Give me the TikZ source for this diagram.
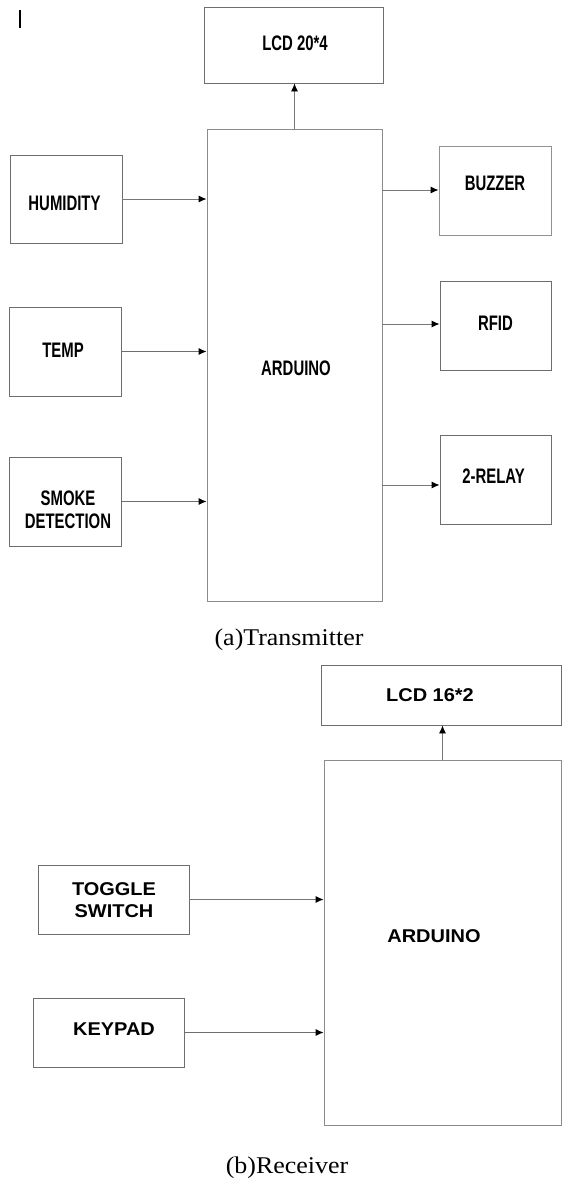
\documentclass[tikz,border=0pt]{standalone}
\usepackage{graphicx}
\usepackage{fontspec}
\setmainfont{Liberation Serif}
\setsansfont{Liberation Sans}
\usetikzlibrary{arrows.meta}
\definecolor{boxgray}{HTML}{6E6E6E}
\definecolor{linegray}{HTML}{777777}
\newcommand\nrwtxt[1]{\scalebox{0.71}[1]{\begin{tabular}{@{}c@{}}#1\end{tabular}}}
\newcommand\wdtxt[1]{\scalebox{1.08}[1]{\begin{tabular}{@{}c@{}}#1\end{tabular}}}
\tikzset{
  blk/.style={draw=boxgray, line width=0.9pt, rectangle, inner sep=0pt},
  tnar/.style={inner sep=0pt, yshift=-3pt, font=\sffamily\bfseries\fontsize{21}{23}\selectfont},
  twid/.style={inner sep=0pt, yshift=-3pt, font=\sffamily\bfseries\fontsize{18.5}{22}\selectfont},
  conn/.style={draw=linegray, line width=0.9pt, -{Latex[length=8pt,width=7pt,color=black]}},
  captxt/.style={font=\fontsize{24}{26}\selectfont, inner sep=0pt}
}
\begin{document}
\begin{tikzpicture}[x=1pt,y=-1pt]
\useasboundingbox (0,0) rectangle (564,1183);
\fill[white] (0,0) rectangle (564,1183);
% stray mark
\draw[line width=1.2pt, black] (20,10) -- (20,28);
% ---------- transmitter ----------
\node[blk, minimum width=179pt, minimum height=76pt,
  label={[tnar, shift={(1.5,-2)}]center:\nrwtxt{LCD 20*4}}] (lcda) at (293.5,45) {};
\node[blk, minimum width=175pt, minimum height=472pt, draw=linegray!85,
  label={[tnar, shift={(1.5,3)}]center:\nrwtxt{ARDUINO}}] (arda) at (294.5,365) {};
\node[blk, minimum width=112pt, minimum height=88pt,
  label={[tnar, shift={(-1.5,4)}]center:\nrwtxt{HUMIDITY}}] (hum) at (66,199) {};
\node[blk, minimum width=112pt, minimum height=89pt,
  label={[tnar, shift={(-2,-1.5)}]center:\nrwtxt{TEMP}}] (temp) at (65,351.5) {};
\node[blk, minimum width=112pt, minimum height=89pt,
  label={[tnar, shift={(3,7.5)}]center:\nrwtxt{SMOKE\\DETECTION}}] (smoke) at (65,501.5) {};
\node[blk, minimum width=112pt, minimum height=89pt, draw=linegray!80,
  label={[tnar, shift={(0,-7.5)}]center:\nrwtxt{BUZZER}}] (buzz) at (495,190.5) {};
\node[blk, minimum width=111pt, minimum height=89pt,
  label={[tnar, shift={(0,-2.5)}]center:\nrwtxt{RFID}}] (rfid) at (495.5,325.5) {};
\node[blk, minimum width=111pt, minimum height=89pt,
  label={[tnar, shift={(-2,-3.5)}]center:\nrwtxt{2-RELAY}}] (relay) at (495.5,479.5) {};
\draw[conn] (arda.north) -- (arda.north |- lcda.south);
\draw[conn] (hum.east) -- (hum.east -| arda.west);
\draw[conn, draw=boxgray] (temp.east) -- (temp.east -| arda.west);
\draw[conn, draw=boxgray] (smoke.east) -- (smoke.east -| arda.west);
\draw[conn] (arda.east |- 0,190) -- (buzz.west |- 0,190);
\draw[conn] (arda.east |- 0,324) -- (rfid.west |- 0,324);
\draw[conn] (arda.east |- 0,485) -- (relay.west |- 0,485);
\node[captxt] (capa) at (289,640) {\scalebox{1.08}[1]{(a)Transmitter}};
% ---------- receiver ----------
\node[blk, minimum width=240pt, minimum height=60pt,
  label={[twid, shift={(-11,-1)}]center:\wdtxt{LCD 16*2}}] (lcdb) at (441,695) {};
\node[blk, minimum width=237pt, minimum height=365pt, draw=linegray!85,
  label={[twid, shift={(-8.5,-7.5)}]center:\wdtxt{ARDUINO}}] (ardb) at (442.5,942.5) {};
\node[blk, minimum width=151pt, minimum height=69pt,
  label={[twid, shift={(0.5,-0.5)}]center:\wdtxt{TOGGLE\\SWITCH}}] (tog) at (113.5,899.5) {};
\node[blk, minimum width=151pt, minimum height=69pt,
  label={[twid, shift={(5.5,-4.5)}]center:\wdtxt{KEYPAD}}] (key) at (108.5,1032.5) {};
\draw[conn] (ardb.north) -- (ardb.north |- lcdb.south);
\draw[conn] (tog.east) -- (tog.east -| ardb.west);
\draw[conn, draw=boxgray] (key.east) -- (key.east -| ardb.west);
\node[captxt] (capb) at (287,1168) {\scalebox{1.08}[1]{(b)Receiver}};
\end{tikzpicture}
\end{document}
